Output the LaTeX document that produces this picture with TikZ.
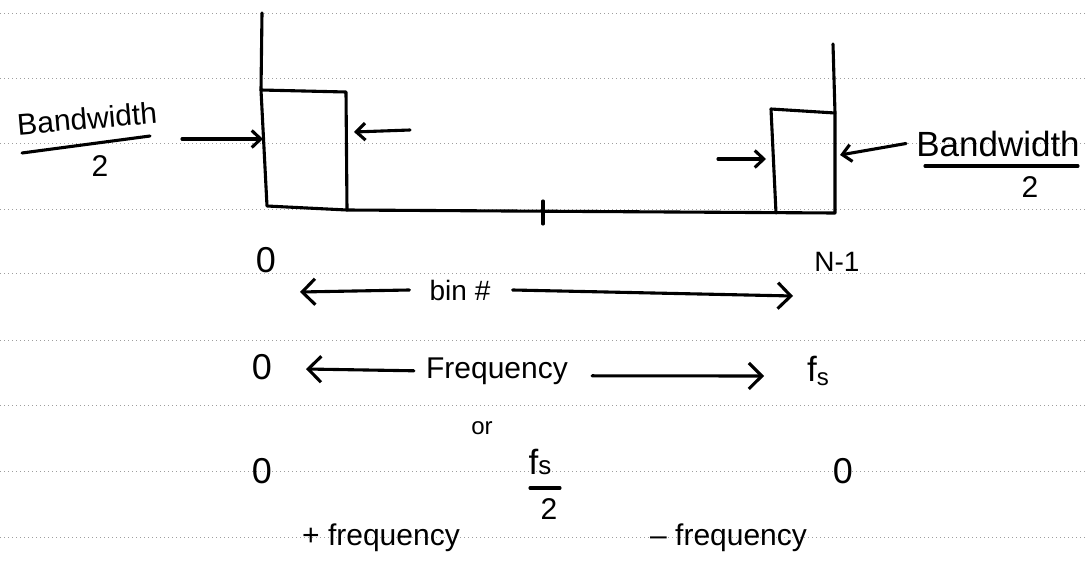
\documentclass[tikz,border=0pt]{standalone}
\usepackage{fontspec}
\setmainfont{Liberation Sans}
\usetikzlibrary{arrows.meta}
\begin{document}
\begin{tikzpicture}[x=1pt,y=-1pt,
  pen/.style={line width=3.1pt, line cap=round, line join=round},
  ruled/.style={black!38, line width=0.8pt, dash pattern=on 1pt off 3pt},
  barb/.style={pen, -{Straight Barb[length=9pt,width=17pt]}},
  bigbarb/.style={pen, -{Straight Barb[length=13pt,width=26pt]}},
  lbl/.style={inner sep=0pt, font=\fontsize{30}{32}\selectfont},
  biglbl/.style={inner sep=0pt, font=\fontsize{35}{36}\selectfont},
  zero/.style={inner sep=0pt, font=\fontsize{36}{38}\selectfont},
  small/.style={inner sep=0pt, font=\fontsize{24}{26}\selectfont}
]
\fill[white] (0,0) rectangle (1087,562);
\useasboundingbox (0,0) rectangle (1087,562);
% ruled paper lines
\foreach \yy in {13,78,143,209,273,340,405,471,537}
  \draw[ruled] (0,\yy) -- (1087,\yy);

% spectrum outline
\coordinate (Ltop) at (262,13);
\coordinate (LRtl) at (261,90);
\coordinate (LRmid) at (263,139);
\coordinate (LRbl) at (267,206);
\coordinate (LRtr) at (346,92);
\coordinate (LRrmid) at (346,132);
\coordinate (LRbr) at (347,210);
\coordinate (RRtl) at (771,109);
\coordinate (RRlmid) at (773,159);
\coordinate (RRbl) at (776,213);
\coordinate (RRtr) at (835,113);
\coordinate (RRrmid) at (835,155);
\coordinate (RRbr) at (835,213);
\coordinate (Rtop) at (833,44);
\coordinate (tickA) at (543,201);
\coordinate (tickB) at (543,224);

\draw[pen] (Ltop) -- (LRtl) -- (LRbl) -- (LRbr) -- (RRbr) -- (RRtr) -- (Rtop);
\draw[pen] (LRtl) -- (LRtr) -- (LRbr);
\draw[pen] (RRbl) -- (RRtl) -- (RRtr);
\draw[pen] (tickA) -- (tickB);

% left bandwidth label
\node[lbl, anchor=base, rotate=5] (bwL) at (88,129) {Bandwidth};
\node[lbl] (twoL) at (100,166) {2};
\coordinate (ulA) at (22,153);
\coordinate (ulB) at (150,136);
\draw[pen] (ulA) -- (ulB);
\coordinate (aLt) at (182,139);
\draw[barb] (aLt) -- (LRmid);
\coordinate (aL2t) at (410,130);
\draw[barb] (aL2t) -- ([xshift=8pt]LRrmid);

% right bandwidth label
\node[biglbl, anchor=base] (bwR) at (998,156) {Bandwidth};
\node[lbl] (twoR) at (1030,187) {2};
\coordinate (urA) at (925,166);
\coordinate (urB) at (1078,166);
\draw[pen] (urA) -- (urB);
\coordinate (aR1t) at (718,159);
\draw[barb] (aR1t) -- ([xshift=-7pt]RRlmid);
\draw[barb] ([xshift=-10pt]bwR.west) -- ([xshift=5pt]RRrmid);

% row 1: bin
\node[zero] (z1) at (266,260) {0};
\node[lbl, font=\fontsize{28}{30}\selectfont] (nm1) at (837,262) {N-1};
\node[lbl, font=\fontsize{28}{30}\selectfont, anchor=base] (bin) at (460,300) {bin \#};
\coordinate (binLh) at (300,292);
\coordinate (binRh) at (793,296);
\draw[bigbarb] ([xshift=-20pt]bin.west) -- (binLh);
\draw[bigbarb] ([xshift=22pt]bin.east) -- (binRh);

% row 2: frequency
\node[zero] (z2) at (262,367) {0};
\node[lbl, anchor=base] (freq) at (497,378) {Frequency};
\node[biglbl, anchor=base] (fs) at (818,381) {f\raisebox{-4pt}{\fontsize{24}{24}\selectfont s}};
\coordinate (fLh) at (306,369);
\coordinate (fRh) at (764,376);
\draw[bigbarb] ([xshift=-12pt]freq.west) -- (fLh);
\draw[bigbarb] ([xshift=24pt,yshift=-5pt]freq.east) -- (fRh);

\node[small, anchor=base] (or) at (482,434) {or};

% row 3
\node[zero] (z3) at (262,471) {0};
\node[zero] (z4) at (843,471) {0};
\node[biglbl, anchor=base] (fs2) at (540,474) {f\fontsize{26}{26}\selectfont s};
\coordinate (barA) at (530,488);
\coordinate (barB) at (560,488);
\draw[pen] (barA) -- (barB);
\node[lbl] (two3) at (549,509) {2};
\node[lbl, anchor=base west] (pf) at (302,545) {+ frequency};
\node[lbl, anchor=base west] (mf) at (650,545) {– frequency};
\end{tikzpicture}
\end{document}
